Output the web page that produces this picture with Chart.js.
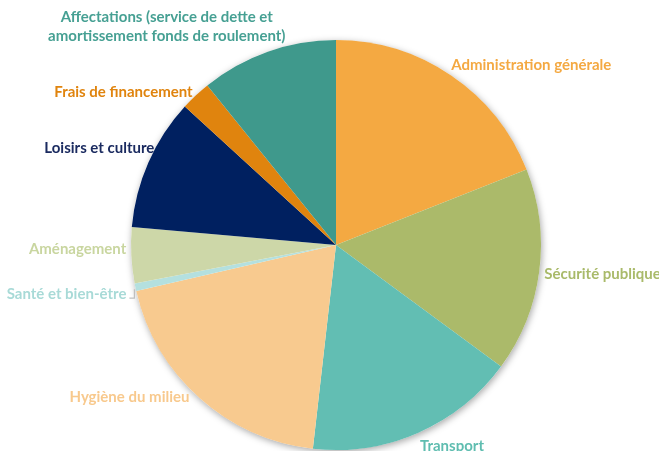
<!DOCTYPE html>
<html>
<head>
<meta charset="utf-8">
<script src="https://cdn.jsdelivr.net/npm/chart.js@4"></script>
<style>
  html, body { margin: 0; padding: 0; background: #ffffff; }
  #wrap { width: 659px; height: 451px; }
</style>
</head>
<body>
<div id="wrap"><canvas id="myChartPie"></canvas></div>
<script>
// data
const categories = [
  "Administration générale",
  "Sécurité publique",
  "Transport",
  "Hygiène du milieu",
  "Santé et bien-être",
  "Aménagement",
  "Loisirs et culture",
  "Frais de financement",
  "Affectations (service de dette et amortissement fonds de roulement)",
];
const shares = [19.0, 16.1, 16.7, 19.6, 0.6, 4.4, 10.4, 2.4, 10.8];
const sliceColors = [
  "#F4A942", "#ABBA6A", "#62BEB3", "#F8CA8F", "#B4E0DF",
  "#CDD7A8", "#002060", "#E0840E", "#3F998C",
];
const labelColors = [
  "#F4A942", "#A9BA6A", "#5FBDB0", "#F8C98D", "#A8DAD7",
  "#C9D6A0", "#1B2B60", "#E0840E", "#46A093",
];
// label text split into lines
const labelLines = [
  ["Administration générale"],
  ["Sécurité publique"],
  ["Transport"],
  ["Hygiène du milieu"],
  ["Santé et bien-être"],
  ["Aménagement"],
  ["Loisirs et culture"],
  ["Frais de financement"],
  ["Affectations (service de dette et", "amortissement fonds de roulement)"],
];

function getPieChart() {
  // offsets of each label from the outer edge of its slice (mid angle)
  const labelPlace = [
    { dx: 0, dy: -10, align: "left" },
    { dx: 5, dy: 3, align: "left" },
    { dx: 2, dy: 13, align: "left" },
    { dx: -10, dy: -1, align: "right" },
    { dx: -9, dy: 7, align: "right" },
    { dx: -5, dy: -6, align: "right" },
    { dx: 6, dy: -14, align: "right" },
    { dx: -3, dy: -3, align: "right" },
    { dx: -101, dy: -35, align: "center" },
  ];

  // soft shadow under the pie
  const pieShadow = {
    id: "pieShadow",
    beforeDatasetsDraw(chart) {
      const arc = chart.getDatasetMeta(0).data[0];
      if (!arc) return;
      const ctx = chart.ctx;
      ctx.save();
      ctx.shadowColor = "rgba(0, 0, 0, 0.35)";
      ctx.shadowBlur = 7;
      ctx.shadowOffsetX = 1;
      ctx.shadowOffsetY = 2;
      ctx.fillStyle = "#ffffff";
      ctx.beginPath();
      ctx.arc(arc.x, arc.y, arc.outerRadius, 0, Math.PI * 2);
      ctx.fill();
      ctx.restore();
    },
  };

  // slice labels
  const sliceLabels = {
    id: "sliceLabels",
    afterDatasetsDraw(chart) {
      const ctx = chart.ctx;
      const arcs = chart.getDatasetMeta(0).data;
      ctx.save();
      ctx.font = "bold 15px Lato";
      ctx.textBaseline = "middle";
      arcs.forEach((arc, i) => {
        const mid = (arc.startAngle + arc.endAngle) / 2;
        const ax = arc.x + Math.cos(mid) * arc.outerRadius;
        const ay = arc.y + Math.sin(mid) * arc.outerRadius;
        const p = labelPlace[i];
        const x = ax + p.dx;
        const y = ay + p.dy;
        ctx.fillStyle = labelColors[i];
        ctx.textAlign = p.align;
        labelLines[i].forEach((line, j) => {
          ctx.fillText(line, x, y + j * 19.5);
        });
        // leader line for the tiny slice
        if (i === 4) {
          ctx.strokeStyle = "#BFBFBF";
          ctx.lineWidth = 1.2;
          ctx.beginPath();
          ctx.moveTo(x + 3, y + 4);
          ctx.lineTo(ax - 1, y + 4);
          ctx.lineTo(ax - 1, ay + 2);
          ctx.stroke();
        }
      });
      ctx.restore();
    },
  };

  const data = {
    labels: categories,
    datasets: [
      {
        data: shares,
        backgroundColor: sliceColors,
        borderWidth: 0,
      },
    ],
  };

  const config = {
    type: "pie",
    data: data,
    plugins: [pieShadow, sliceLabels],
    options: {
      responsive: false,
      animation: false,
      layout: {
        padding: { top: 40, bottom: 1, left: 131, right: 118 },
      },
      plugins: {
        legend: { display: false },
        tooltip: { enabled: false },
      },
    },
  };

  const canvas = document.getElementById("myChartPie");
  canvas.width = 659;
  canvas.height = 451;
  const myChart = new Chart(canvas, config);
}
getPieChart();
</script>
</body>
</html>
